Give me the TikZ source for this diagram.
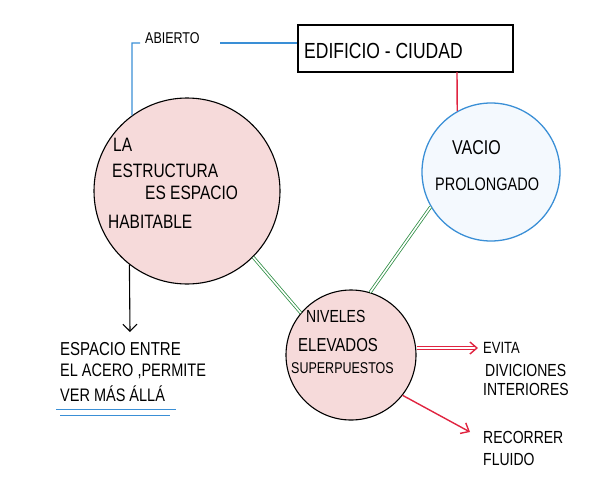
\documentclass[tikz,border=0pt]{standalone}
\usepackage{fontspec}
\setmainfont{Liberation Sans}
\usetikzlibrary{arrows.meta}
\definecolor{pinkfill}{HTML}{F6DADA}
\definecolor{skyline}{HTML}{3A8FD6}
\definecolor{redline}{HTML}{E02440}
\definecolor{greenline}{HTML}{2F8F45}
\definecolor{bluefill}{HTML}{F4F9FE}
\newcommand{\tallt}[1]{\scalebox{1}[1.25]{#1}}
\tikzset{
  bigcirc/.style={circle, draw=black, line width=1.1pt, fill=pinkfill, inner sep=0pt, minimum size=#1},
  bluecirc/.style={circle, draw=skyline, line width=1.3pt, fill=bluefill, inner sep=0pt, minimum size=#1},
  txt/.style={inner sep=0pt, anchor=west, font=\fontsize{#1}{#1}\selectfont},
  greenlink/.style={draw=greenline, double=white, double distance=1.6pt, line width=0.8pt},
  bluelink/.style={draw=skyline, line width=1.1pt},
  redlink/.style={draw=redline, line width=1.4pt},
  redarrow/.style={draw=redline, line width=1.4pt, -{Straight Barb[length=7pt,width=12pt,line width=1.4pt]}},
  blackarrow/.style={draw=black, line width=1.1pt, -{Straight Barb[length=7pt,width=14pt,line width=1.1pt]}},
  underline/.style={draw=skyline, line width=1pt}
}
\begin{document}
\begin{tikzpicture}[x=1pt,y=-1pt]
\useasboundingbox (0,0) rectangle (603,483);

% circles
\node[bigcirc=186pt] (est) at (187,191) {};
\node[bluecirc=138pt] (vac) at (491,172) {};
\node[bigcirc=130pt] (niv) at (351,355) {};

% box
\node[draw=black, line width=1.2pt, minimum width=215pt, minimum height=47pt, inner sep=0pt] (edif) at (405.5,48.5) {};
\node[txt=17.5] (edift) at (304,51) {\tallt{EDIFICIO - CIUDAD}};

% ABIERTO
\node[txt=12.5] (abierto) at (145,38) {\tallt{ABIERTO}};
\coordinate (abcorner) at (132,43);
\coordinate (abtick) at (140,43);
\coordinate (abstart) at (220,43);
\draw[bluelink] (est.126) -- (abcorner) -- (abtick);
\draw[bluelink] (abstart) -- (edif.west |- abstart);

% red line box -> vacio
\coordinate (redtop) at (457,72);
\draw[redlink] (redtop) -- (vac.119);

% circle texts
\node[txt=15.5] (t1) at (113,145) {\tallt{LA}};
\node[txt=15.5] (t2) at (112,171) {\tallt{ESTRUCTURA}};
\node[txt=15.5] (t3) at (145,193) {\tallt{ES ESPACIO}};
\node[txt=15.5] (t4) at (108,222) {\tallt{HABITABLE}};

\node[txt=16] (v1) at (452,148) {\tallt{VACIO}};
\node[txt=14.5] (v2) at (435,184) {\tallt{PROLONGADO}};

\node[txt=14] (n1) at (306,316) {\tallt{NIVELES}};
\node[txt=15] (n2) at (298,345) {\tallt{ELEVADOS}};
\node[txt=12.5] (n3) at (291,368) {\tallt{SUPERPUESTOS}};

% green links
\draw[greenlink] (est.-45) -- (niv.140);
\draw[greenlink] (vac.210) -- (niv.73);

% black arrow down
\coordinate (downend) at (130,332);
\draw[blackarrow] (est.-128) -- (downend);

% left text
\node[txt=15] (l1) at (60,349) {\tallt{ESPACIO ENTRE}};
\node[txt=14.5] (l2) at (60,371) {\tallt{EL ACERO ,PERMITE}};
\node[txt=14.5] (l3) at (60,394) {\tallt{VER MÁS ÁLLÁ}};
\coordinate (u1a) at (56,409); \coordinate (u1b) at (176,409);
\coordinate (u2a) at (60,415); \coordinate (u2b) at (170,415);
\draw[underline] (u1a) -- (u1b);
\draw[underline] (u2a) -- (u2b);

% red arrows
\coordinate (evend) at (478,348);
\coordinate (reend) at (470,432);
\draw[redarrow, double=white, double distance=1.4pt, line width=0.9pt] (niv.0 |- evend) -- (evend);
\draw[redarrow] (niv.-38) -- (reend);

\node[txt=13] (r1) at (483,348) {\tallt{EVITA}};
\node[txt=14] (r2) at (485,370) {\tallt{DIVICIONES}};
\node[txt=14] (r3) at (483,389) {\tallt{INTERIORES}};
\node[txt=14] (r4) at (483,437) {\tallt{RECORRER}};
\node[txt=14] (r5) at (483,459) {\tallt{FLUIDO}};
\end{tikzpicture}
\end{document}
